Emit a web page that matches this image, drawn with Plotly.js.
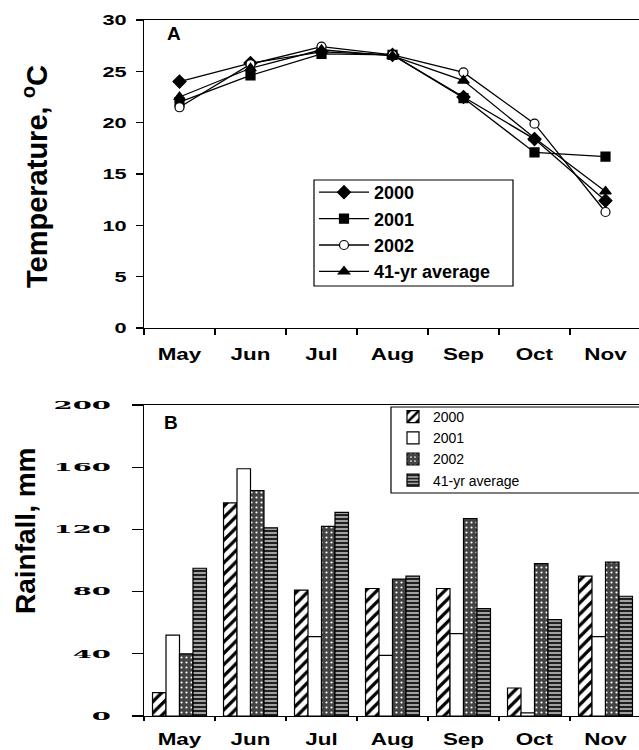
<!DOCTYPE html>
<html>
<head>
<meta charset="utf-8">
<script src="https://cdn.plot.ly/plotly-3.0.1.min.js"></script>
<style>
  html, body { margin: 0; padding: 0; background: #fff; overflow: hidden; }
  #chart { width: 642px; height: 750px; }
  text.legendtext[style*="14px"] { letter-spacing: 7.5px; }
</style>
</head>
<body>
<div id="chart"></div>
<script>
// ---- data ----
var months = ['May', 'Jun', 'Jul', 'Aug', 'Sep', 'Oct', 'Nov'];
var seriesNames = ['2000', '2001', '2002', '41-yr average'];

// Temperature, oC (panel A)
var temp2000 = [24.0, 25.8, 26.9, 26.6, 22.5, 18.4, 12.4];
var temp2001 = [22.0, 24.6, 26.7, 26.6, 22.4, 17.1, 16.7];
var temp2002 = [21.5, 25.7, 27.4, 26.6, 24.9, 19.9, 11.3];
var tempAvg  = [22.5, 25.3, 27.1, 26.5, 24.1, 18.5, 13.3];

// Rainfall, mm (panel B)
var rain2000 = [15, 137, 81, 82, 82, 18, 90];
var rain2001 = [52, 159, 51, 39, 53, 2, 51];
var rain2002 = [40, 145, 122, 88, 127, 98, 99];
var rainAvg  = [95, 121, 131, 90, 69, 62, 77];

var tempTicks = [0, 5, 10, 15, 20, 25, 30];
var rainTicks = [0, 40, 80, 120, 160, 200];

// ---- layout geometry ----
var W = 642, H = 750;
function px(x) { return x / W; }
function py(y) { return 1 - y / H; }

var sans = 'Liberation Sans, Arial, sans-serif';
var serif = 'DejaVu Serif, serif';

function lineTrace(name, y, symbol, size, fill) {
  return {
    type: 'scatter', mode: 'lines+markers', name: name,
    x: months, y: y, xaxis: 'x', yaxis: 'y', legend: 'legend',
    line: { color: '#000', width: 1.3 },
    marker: { symbol: symbol, size: size, color: fill, line: { color: '#000', width: 1.2 } }
  };
}

var traces = [
  lineTrace(seriesNames[0], temp2000, 'diamond', 10, '#000'),
  lineTrace(seriesNames[1], temp2001, 'square', 9, '#000'),
  lineTrace(seriesNames[2], temp2002, 'circle', 9, '#fff'),
  lineTrace(seriesNames[3], tempAvg, 'triangle-up', 10, '#000'),
  {
    type: 'bar', name: seriesNames[0], x: months, y: rain2000, xaxis: 'x2', yaxis: 'y2', legend: 'legend2',
    marker: { color: '#fff', line: { color: '#000', width: 1.2 },
      pattern: { shape: '/', fgcolor: '#000', bgcolor: '#fff', size: 8, solidity: 0.4 } }
  },
  {
    type: 'bar', name: seriesNames[1], x: months, y: rain2001, xaxis: 'x2', yaxis: 'y2', legend: 'legend2',
    marker: { color: '#fff', line: { color: '#000', width: 1.2 } }
  },
  {
    type: 'bar', name: seriesNames[2], x: months, y: rain2002, xaxis: 'x2', yaxis: 'y2', legend: 'legend2',
    marker: { color: '#444', line: { color: '#000', width: 1.2 },
      pattern: { shape: '.', fgcolor: '#fff', bgcolor: '#444', size: 5, solidity: 0.15 } }
  },
  {
    type: 'bar', name: seriesNames[3], x: months, y: rainAvg, xaxis: 'x2', yaxis: 'y2', legend: 'legend2',
    marker: { color: '#9a9a9a', line: { color: '#000', width: 1.2 },
      pattern: { shape: '-', fgcolor: '#111', bgcolor: '#a0a0a0', size: 4, solidity: 0.45 } }
  }
];

var xCommon = {
  type: 'category', range: [-0.5, 6.5], fixedrange: true,
  showline: true, linecolor: '#000', linewidth: 1.3,
  ticks: 'outside', tickson: 'boundaries', tickcolor: '#000', tickwidth: 1.2,
  showgrid: false, zeroline: false,
  tickfont: { family: sans, size: 16, color: '#000', weight: 'bold' }
};

var layout = {
  width: W, height: H,
  margin: { l: 0, r: 0, t: 0, b: 0 },
  paper_bgcolor: '#fff', plot_bgcolor: '#fff',
  showlegend: true,
  barmode: 'group', bargap: 0.24, bargroupgap: 0,
  xaxis: Object.assign({}, xCommon, {
    domain: [px(144), px(641)], anchor: 'y', mirror: true, ticklen: 6, ticklabelstandoff: 12
  }),
  yaxis: {
    domain: [py(328), py(20)], anchor: 'x', range: [0, 30], fixedrange: true,
    tickvals: tempTicks, ticktext: tempTicks.map(String),
    showline: true, linecolor: '#000', linewidth: 1.3,
    ticks: 'outside', ticklen: 7, tickcolor: '#000', tickwidth: 1.2,
    showgrid: false, zeroline: false, ticklabelstandoff: 6,
    tickfont: { family: sans, size: 15, color: '#000', weight: 'bold' }
  },
  xaxis2: Object.assign({}, xCommon, {
    domain: [px(144), px(641)], anchor: 'y2', mirror: true, ticklen: 4, ticklabelstandoff: 9
  }),
  yaxis2: {
    domain: [py(716), py(405)], anchor: 'x2', range: [0, 200], fixedrange: true,
    tickvals: rainTicks, ticktext: rainTicks.map(String),
    showline: true, linecolor: '#000', linewidth: 1.3,
    ticks: 'outside', ticklen: 11, tickcolor: '#000', tickwidth: 1.2,
    showgrid: false, zeroline: false, ticklabelstandoff: 18,
    tickfont: { family: serif, size: 11, color: '#000', weight: 'bold' }
  },
  legend: {
    x: px(314), y: py(174), xanchor: 'left', yanchor: 'top',
    bgcolor: 'rgba(0,0,0,0)', borderwidth: 0,
    font: { family: sans, size: 18, color: '#000', weight: 'bold' },
    itemwidth: 50, tracegroupgap: 0
  },
  legend2: {
    x: px(393), y: py(401), xanchor: 'left', yanchor: 'top',
    bgcolor: 'rgba(0,0,0,0)', borderwidth: 0,
    font: { family: sans, size: 14, color: '#000' },
    itemwidth: 30, tracegroupgap: 0
  },
  shapes: [
    { type: 'rect', xref: 'paper', yref: 'paper', x0: px(314), x1: px(513), y0: py(286), y1: py(180),
      line: { color: '#000', width: 1.2 }, fillcolor: '#fff', layer: 'above' },
    { type: 'rect', xref: 'paper', yref: 'paper', x0: px(391), x1: px(660), y0: py(493), y1: py(407),
      line: { color: '#000', width: 1.2 }, fillcolor: '#fff', layer: 'above' }
  ],
  annotations: [
    { text: 'A', xref: 'paper', yref: 'paper', x: px(174), y: py(33), showarrow: false,
      xanchor: 'center', yanchor: 'middle', font: { family: sans, size: 19, color: '#000', weight: 'bold' } },
    { text: 'B', xref: 'paper', yref: 'paper', x: px(171), y: py(422), showarrow: false,
      xanchor: 'center', yanchor: 'middle', font: { family: sans, size: 19, color: '#000', weight: 'bold' } },
    { text: 'Temperature, <sup>o</sup>C', xref: 'paper', yref: 'paper', x: px(35), y: py(177), showarrow: false,
      textangle: -90, xanchor: 'center', yanchor: 'middle', font: { family: sans, size: 29, color: '#000', weight: 'bold' } },
    { text: 'Rainfall, mm', xref: 'paper', yref: 'paper', x: px(25), y: py(531), showarrow: false,
      textangle: -90, xanchor: 'center', yanchor: 'middle', font: { family: sans, size: 28, color: '#000', weight: 'bold' } }
  ]
};

// widen tick-label glyphs horizontally (the reference figure is horizontally stretched)
function stretch(nodes, sx, anchor) {
  nodes.forEach(function (el) {
    if (el.getAttribute('data-stretched')) return;
    if (!el.textContent) return;
    var bb = el.getBBox();
    if (!bb.width) return;
    var ox = anchor === 'end' ? bb.x + bb.width : (anchor === 'start' ? bb.x : bb.x + bb.width / 2);
    var t = el.getAttribute('transform') || '';
    el.setAttribute('transform', t + ' translate(' + ox + ',0) scale(' + sx + ',1) translate(' + (-ox) + ',0)');
    el.setAttribute('data-stretched', '1');
  });
}

function q(s) { return Array.prototype.slice.call(document.querySelectorAll(s)); }

function applyStretch() {
  stretch(q('g.xtick text, g.x2tick text'), 1.4, 'middle');
  stretch(q('g.ytick text'), 1.45, 'end');
  stretch(q('g.y2tick text'), 2.5, 'end');
}

Plotly.newPlot('chart', traces, layout, { displayModeBar: false, staticPlot: true }).then(applyStretch);
</script>
</body>
</html>
